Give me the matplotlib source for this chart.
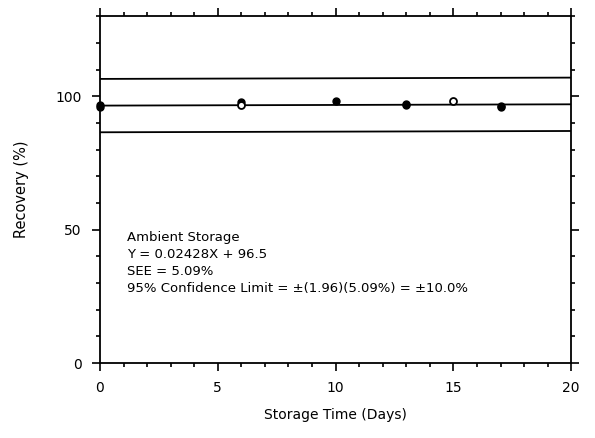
import matplotlib
matplotlib.use('Agg')
import matplotlib.pyplot as plt
import numpy as np
from matplotlib.ticker import MultipleLocator

plt.rcParams['font.family'] = ['DejaVu Sans']

# data
filled_days = [0, 0, 6, 10, 13, 13, 17, 17]
filled_rec = [95.8, 96.8, 97.9, 98.1, 96.7, 97.1, 95.8, 96.3]
open_days = [6, 15]
open_rec = [96.6, 98.1]

slope = 0.02428
intercept = 96.5
conf_limit = 10.0
fit_days = [0, 20]

fig = plt.figure(figsize=(5.95, 4.38), dpi=100)
ax = fig.add_axes([0.168, 0.171, 0.792, 0.792])

x = np.array(fit_days)
fit = intercept + slope * x
ax.plot(x, fit, color='black', lw=1.3)
ax.plot(x, fit + conf_limit, color='black', lw=1.3)
ax.plot(x, fit - conf_limit, color='black', lw=1.3)

ax.plot(filled_days, filled_rec, 'o', color='black', ms=5, clip_on=False, zorder=5)
ax.plot(open_days, open_rec, 'o', mfc='white', mec='black', mew=1.3, ms=5, zorder=6)

ax.set_xlim(0, 20)
ax.set_ylim(0, 130)
ax.set_xticks([0, 5, 10, 15, 20])
ax.set_yticks([0, 50, 100])
ax.xaxis.set_minor_locator(MultipleLocator(1))
ax.yaxis.set_minor_locator(MultipleLocator(10))
ax.tick_params(which='both', direction='out', top=True, right=True, labelsize=10, width=1.2)
ax.tick_params(which='major', length=6, pad=7)
ax.tick_params(which='minor', length=3)
for s in ax.spines.values():
    s.set_linewidth(1.3)

ax.set_xlabel('Storage Time (Days)', fontsize=10, labelpad=9)
ax.set_ylabel('Recovery (%)', fontsize=10.5, labelpad=19)

note = ('Ambient Storage\n'
        'Y = 0.02428X + 96.5\n'
        'SEE = 5.09%\n'
        '95% Confidence Limit = \u00b1(1.96)(5.09%) = \u00b110.0%')
ax.text(0.057, 0.381, note, transform=ax.transAxes, fontsize=9.5,
        va='top', ha='left', linespacing=1.4)

fig.savefig('out.png', dpi=100)
